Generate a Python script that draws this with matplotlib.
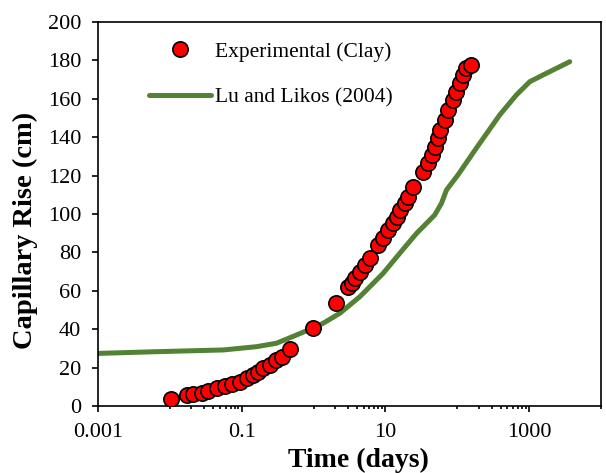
import numpy as np
import matplotlib
matplotlib.use('Agg')
from matplotlib import pyplot as plt
from matplotlib.ticker import NullFormatter

plt.rcParams['font.family'] = ['Liberation Serif', 'DejaVu Serif']

# experimental capillary rise in clay
exp_time = [0.0104, 0.0171, 0.0211, 0.0277, 0.0342, 0.0448, 0.0583, 0.0724,
            0.0944, 0.117, 0.145, 0.169, 0.199, 0.247, 0.305, 0.359, 0.468,
            0.986, 2.04, 3.03, 3.38, 3.75, 4.40, 5.17, 6.07, 7.91, 9.29, 10.9,
            12.8, 14.3, 15.8, 18.6, 20.7, 24.3, 33.4, 39.3, 43.8, 48.6, 54.1,
            57.1, 67.0, 74.5, 87.5, 97.5, 108, 120, 134, 157]
exp_rise = [3.6, 5.7, 6.1, 6.9, 7.8, 9.2, 10.4, 11.5,
            12.7, 14.4, 16.1, 17.9, 19.6, 21.4, 24.0, 25.7, 29.5,
            40.5, 53.5, 62.1, 63.9, 66.5, 69.9, 73.4, 76.9, 83.9, 87.3, 91.7,
            95.2, 98.6, 102.1, 105.6, 109.0, 114.2, 122.0, 126.4, 130.7, 135.1, 139.4,
            143.8, 149.0, 154.2, 159.4, 163.7, 168.1, 172.4, 175.9, 177.6]

# Lu and Likos (2004) model curve
model_time = [0.001, 0.00655, 0.0553, 0.161, 0.305, 0.580, 0.977, 1.36, 2.32,
              4.40, 9.29, 15.8, 27.1, 48.6, 60.3, 70.8, 102, 185, 390, 665,
              1020, 1560, 3670]
model_rise = [27.4, 28.3, 29.2, 30.9, 32.7, 37.0, 40.6, 43.1, 48.3,
              56.9, 69.1, 79.5, 89.9, 99.5, 105.6, 112.5, 120.3, 134.4, 151.6, 162.0,
              168.9, 172.4, 179.3]

x_major = [0.001, 0.1, 10, 1000]
x_labels = ['0.001', '0.1', '10', '1000']
y_ticks = list(range(0, 201, 20))

fig = plt.figure(figsize=(6.06, 4.73), dpi=100)
ax = fig.add_axes([0.1617, 0.1416, 0.83, 0.8119])

ax.plot(model_time, model_rise, color='#548235', lw=3.6,
        solid_capstyle='round', label='Lu and Likos (2004)', zorder=2)
ax.plot(exp_time, exp_rise, 'o', color='#FF0000', mec='black', mew=1.2,
        ms=11, label='Experimental (Clay)', zorder=3)

ax.set_xscale('log')
ax.set_xlim(0.001, 10000)
ax.set_ylim(0, 200)

minors = [k * 10.0 ** n for n in (-2, 0, 2, 4) for k in range(1, 10)]
minors = [m for m in minors if 0.001 < m <= 10000]
ax.set_xticks(x_major)
ax.set_xticklabels(x_labels)
ax.set_xticks(minors, minor=True)
ax.xaxis.set_minor_formatter(NullFormatter())
ax.set_yticks(y_ticks)

ax.tick_params(axis='both', which='major', direction='out', length=4,
               width=1.2, labelsize=16, pad=8)
ax.tick_params(axis='x', which='minor', direction='out', length=2.5, width=1.2)
ax.tick_params(axis='y', which='minor', left=False)
for s in ax.spines.values():
    s.set_linewidth(1.2)

ax.set_xlabel('Time (days)', fontsize=20, fontweight='bold')
ax.set_ylabel('Capillary Rise (cm)', fontsize=20.5, fontweight='bold')
ax.xaxis.set_label_coords(0.517, -0.11)
ax.yaxis.set_label_coords(-0.12, 0.458)

h, l = ax.get_legend_handles_labels()
ax.legend(h[::-1], l[::-1], loc='upper left', bbox_to_anchor=(0.084, 0.971),
          frameon=False, fontsize=15.5, handlelength=2.9, handletextpad=0.15,
          labelspacing=1.18, borderpad=0.4, borderaxespad=0)

fig.savefig('out.png', dpi=100)
